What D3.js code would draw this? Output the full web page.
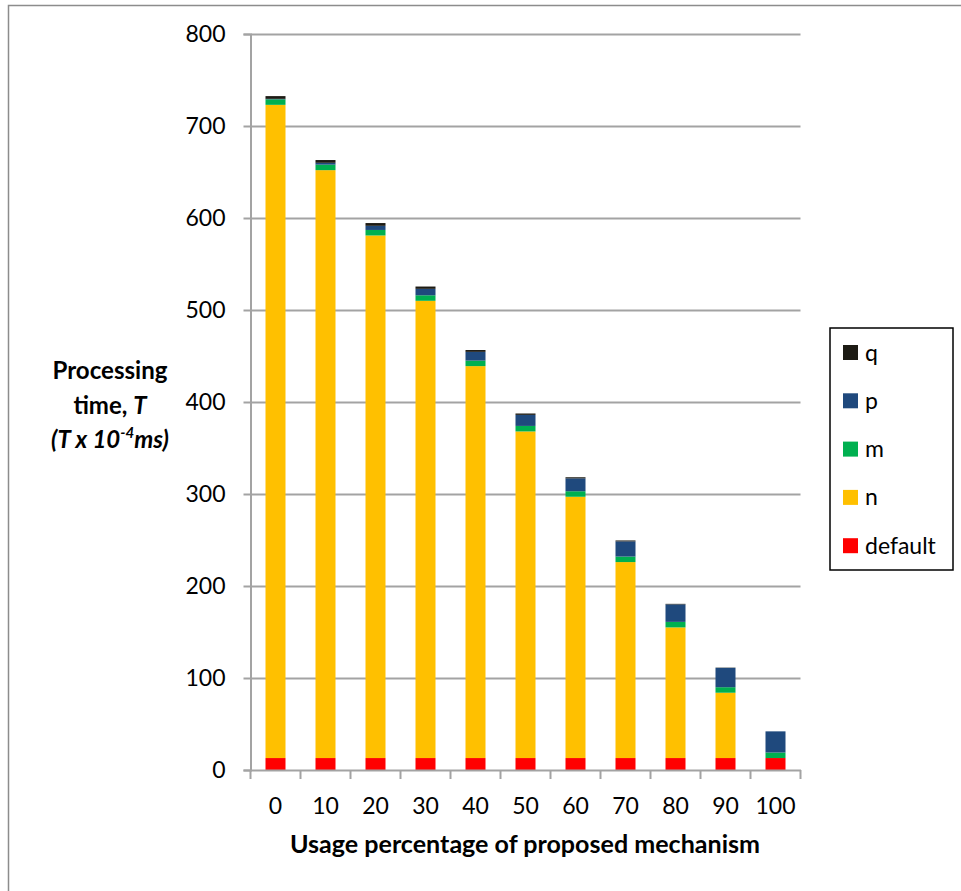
<!DOCTYPE html>
<html>
<head>
<meta charset="utf-8">
<script src="https://cdn.jsdelivr.net/npm/d3@7"></script>
<style>
  html, body { margin: 0; padding: 0; background: #fff; }
  svg { display: block; font-family: Lato, "Open Sans", sans-serif; }
</style>
</head>
<body>
<svg id="chart" width="961" height="891"></svg>
<script>
// Usage percentage of the proposed mechanism (x categories)
const categories = ["0", "10", "20", "30", "40", "50", "60", "70", "80", "90", "100"];

// Processing time components, T x 10^-4 ms (stacked bottom to top)
const defaultVals = [13, 13, 13, 13, 13, 13, 13, 13, 13, 13, 13];
const nVals       = [710, 639, 568, 497, 426, 355, 284, 213, 142, 71, 0];
const mVals       = [6, 6, 6, 6, 6, 6, 6, 6, 6, 6, 6];
const pVals       = [0.5, 2, 4.5, 7, 9.5, 12, 14, 16.5, 19, 21, 23];
const qVals       = [3, 3, 3, 2.5, 2, 1.5, 1.2, 1, 0.6, 0.3, 0];

const yTicks = [0, 100, 200, 300, 400, 500, 600, 700, 800];

const seriesKeys   = ["default", "n", "m", "p", "q"];
const seriesColors = { default: "#ff0000", n: "#ffc000", m: "#00b050", p: "#1f497d", q: "#1d1b14" };
const seriesValues = { default: defaultVals, n: nVals, m: mVals, p: pVals, q: qVals };

const rows = categories.map((c, i) => {
  const r = { cat: c };
  seriesKeys.forEach(k => { r[k] = seriesValues[k][i]; });
  return r;
});

const svg = d3.select("#chart");

// outer frame of the chart area
svg.append("rect")
  .attr("x", 8.5).attr("y", 5.5)
  .attr("width", 970).attr("height", 900)
  .attr("fill", "none").attr("stroke", "#8c8c8c").attr("stroke-width", 1.5);

const plot = { left: 250.5, right: 800.5, top: 34, bottom: 770 };

const x = d3.scaleBand().domain(categories).range([plot.left, plot.right]).paddingInner(0).paddingOuter(0);
const y = d3.scaleLinear().domain([0, 800]).range([plot.bottom, plot.top]);

// horizontal gridlines
const grid = svg.append("g")
  .attr("transform", `translate(${plot.left},0)`)
  .call(d3.axisLeft(y).tickValues(yTicks.filter(t => t > 0)).tickSize(-(plot.right - plot.left)).tickFormat(""));
grid.select(".domain").remove();
grid.selectAll("line").attr("stroke", "#a3a3a3").attr("stroke-width", 2);

// stacked bars
const stack = d3.stack().keys(seriesKeys);
const layers = stack(rows);
const barOffset = x.bandwidth() * 0.3;
const barWidth = x.bandwidth() * 0.4;

svg.append("g").selectAll("g")
  .data(layers)
  .join("g")
  .attr("fill", d => seriesColors[d.key])
  .selectAll("rect")
  .data(d => d)
  .join("rect")
  .attr("x", d => x(d.data.cat) + barOffset)
  .attr("width", barWidth)
  .attr("y", d => y(d[1]))
  .attr("height", d => Math.max(0, y(d[0]) - y(d[1])));

// y axis
const yAxis = svg.append("g")
  .attr("transform", `translate(${plot.left},0)`)
  .call(d3.axisLeft(y).tickValues(yTicks).tickSize(7).tickPadding(18));
yAxis.select(".domain").attr("stroke", "#a3a3a3").attr("stroke-width", 2);
yAxis.selectAll("line").attr("stroke", "#a3a3a3").attr("stroke-width", 2);
yAxis.selectAll("text").attr("font-size", 23).attr("fill", "#000")
  .attr("font-family", "Lato, 'Open Sans', sans-serif");

// x axis with ticks at category boundaries
const xAxis = svg.append("g")
  .attr("transform", `translate(0,${plot.bottom})`)
  .call(d3.axisBottom(x).tickSize(0).tickPadding(28));
xAxis.select(".domain").attr("stroke", "#a3a3a3").attr("stroke-width", 2);
xAxis.selectAll("text").attr("font-size", 23).attr("fill", "#000")
  .attr("font-family", "Lato, 'Open Sans', sans-serif");
xAxis.selectAll(".boundary")
  .data(categories.concat(["end"]))
  .join("line")
  .attr("class", "boundary")
  .attr("x1", (d, i) => plot.left + i * x.step())
  .attr("x2", (d, i) => plot.left + i * x.step())
  .attr("y1", 0).attr("y2", 9)
  .attr("stroke", "#a3a3a3").attr("stroke-width", 2);

// axis titles
svg.append("text")
  .attr("x", 525).attr("y", 853)
  .attr("text-anchor", "middle")
  .attr("font-size", 24).attr("font-weight", "bold")
  .attr("textLength", 470).attr("lengthAdjust", "spacingAndGlyphs")
  .text("Usage percentage of proposed mechanism");

const yTitle = svg.append("g").attr("font-size", 24).attr("font-weight", "bold").attr("text-anchor", "middle");
yTitle.append("text").attr("x", 110).attr("y", 379)
  .attr("textLength", 115).attr("lengthAdjust", "spacingAndGlyphs").text("Processing");
const l2 = yTitle.append("text").attr("x", 110).attr("y", 414);
l2.append("tspan").text("time, ");
l2.append("tspan").attr("font-style", "italic").text("T");
const l3 = yTitle.append("text").attr("x", 110).attr("y", 448).attr("font-style", "italic");
l3.append("tspan").text("(T x 10");
l3.append("tspan").attr("font-size", 15).attr("dy", -10).text("-4");
l3.append("tspan").attr("dy", 10).text("ms)");

// legend
const legend = svg.append("g");
legend.append("rect")
  .attr("x", 830).attr("y", 328).attr("width", 123).attr("height", 242)
  .attr("fill", "#fff").attr("stroke", "#000").attr("stroke-width", 1.5);
const legendKeys = seriesKeys.slice().reverse();
const item = legend.selectAll(".item")
  .data(legendKeys)
  .join("g")
  .attr("class", "item")
  .attr("transform", (d, i) => `translate(843,${345 + i * 48.3})`);
item.append("rect").attr("width", 15).attr("height", 15).attr("fill", d => seriesColors[d]);
item.append("text")
  .attr("x", 22).attr("y", 7.5).attr("dy", "0.35em")
  .attr("font-size", 23).text(d => d);
</script>
</body>
</html>
